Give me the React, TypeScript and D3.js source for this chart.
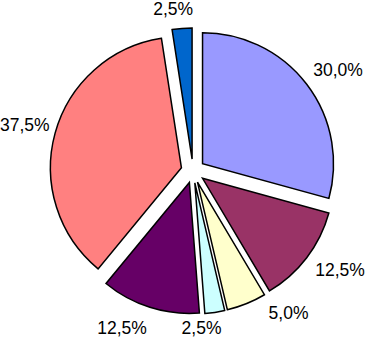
import React from "react";
import * as d3 from "d3";

const categories = ["A", "B", "C", "D", "E", "F", "G"];
const values = [30, 12.5, 5, 2.5, 12.5, 37.5, 2.5];
const colors = ["#9999FF", "#993366", "#FFFFCC", "#CCFFFF", "#660066", "#FF8080", "#0066CC"];
// label nudges (px) relative to the computed outside-end position
const labelNudge: [number, number][] = [
  [8, -8],
  [10, 6],
  [33, -1],
  [-17, 5],
  [-19, 10],
  [-2, -5],
  [-7, -8],
];

const W = 366;
const H = 337;
const cx = 193;
const cy = 171;
const radius = 131;
const explode = 12;
const fontSize = 17.5;

const fmt = (v: number) => v.toFixed(1).replace(".", ",") + "%";

export default function App() {
  const pie = d3
    .pie<number>()
    .sort(null)
    .value((d) => d)
    .startAngle(0)
    .endAngle(2 * Math.PI);
  const arcs = pie(values);
  const arc = d3.arc<d3.PieArcDatum<number>>().innerRadius(0).outerRadius(radius);

  return (
    <svg
      width={W}
      height={H}
      style={{ position: "absolute", left: 0, top: 0, background: "#fff" }}
      fontFamily="'Liberation Sans', Arial, sans-serif"
    >
      <rect width={W} height={H} fill="#fff" />
      <g transform={`translate(${cx},${cy})`}>
        {arcs.map((a, i) => {
          const mid = (a.startAngle + a.endAngle) / 2;
          const ux = Math.sin(mid);
          const uy = -Math.cos(mid);
          return (
            <path
              key={categories[i]}
              d={arc(a) || ""}
              transform={`translate(${ux * explode},${uy * explode})`}
              fill={colors[i]}
              stroke="#000"
              strokeWidth={1.5}
              strokeLinejoin="miter"
            />
          );
        })}
        {arcs.map((a, i) => {
          const mid = (a.startAngle + a.endAngle) / 2;
          const ux = Math.sin(mid);
          const uy = -Math.cos(mid);
          const R = radius + explode + 4;
          const label = fmt(values[i]);
          const hw = label.length * fontSize * 0.29;
          const hh = 7;
          const x = ux * R + ux * hw + labelNudge[i][0];
          const y = uy * R + uy * hh + labelNudge[i][1];
          return (
            <text
              key={"l" + categories[i]}
              x={x}
              y={y}
              textAnchor="middle"
              dominantBaseline="central"
              fontSize={fontSize}
              fill="#000"
            >
              {label}
            </text>
          );
        })}
      </g>
    </svg>
  );
}
